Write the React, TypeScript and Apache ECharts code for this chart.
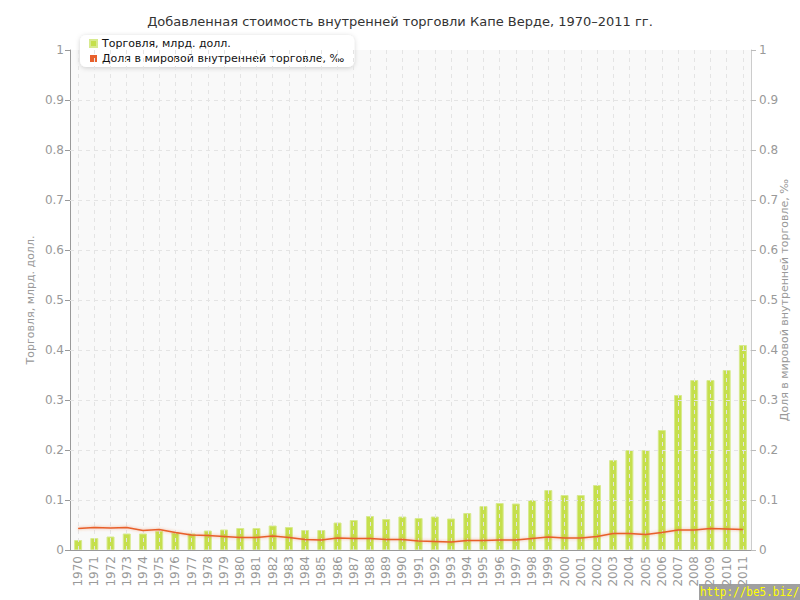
import React, { useEffect, useRef } from "react";
import * as echarts from "echarts";

const years = [
  "1970","1971","1972","1973","1974","1975","1976","1977","1978","1979",
  "1980","1981","1982","1983","1984","1985","1986","1987","1988","1989",
  "1990","1991","1992","1993","1994","1995","1996","1997","1998","1999",
  "2000","2001","2002","2003","2004","2005","2006","2007","2008","2009",
  "2010","2011",
];

const trade = [
  0.02, 0.024, 0.027, 0.033, 0.033, 0.038, 0.035, 0.033, 0.039, 0.041,
  0.044, 0.044, 0.049, 0.046, 0.04, 0.04, 0.055, 0.06, 0.068, 0.062,
  0.067, 0.064, 0.067, 0.063, 0.074, 0.088, 0.094, 0.093, 0.1, 0.12,
  0.11, 0.11, 0.13, 0.18, 0.2, 0.2, 0.24, 0.31, 0.34, 0.34,
  0.36, 0.41,
];

const share = [
  0.043, 0.045, 0.044, 0.045, 0.039, 0.041, 0.035, 0.03, 0.029, 0.027,
  0.025, 0.025, 0.028, 0.025, 0.021, 0.02, 0.024, 0.023, 0.023, 0.021,
  0.021, 0.018, 0.017, 0.016, 0.019, 0.019, 0.02, 0.02, 0.023, 0.026,
  0.024, 0.024, 0.027, 0.033, 0.033, 0.031, 0.035, 0.04, 0.04, 0.043,
  0.042, 0.041,
];

const yTicks = [0.1, 0.2, 0.3, 0.4, 0.5, 0.6, 0.7, 0.8, 0.9];

const titleText = "Добавленная стоимость внутренней торговли Капе Верде, 1970–2011 гг.";
const seriesNames = ["Торговля, млрд. долл.", "Доля в мировой внутренней торговле, ‰"];
const leftAxisName = "Торговля, млрд. долл.";
const rightAxisName = "Доля в мировой внутренней торговле, ‰";
const watermark = "http://be5.biz/";

export default function App() {
  const ref = useRef<HTMLDivElement>(null);
  useEffect(() => {
    if (!ref.current) return;
    const chart = echarts.init(ref.current, null, { renderer: "svg" });
    const font = "DejaVu Sans";
    const gridLine = { color: "#e4e4e4", type: [4, 4] as any, width: 1 };
    chart.setOption({
      animation: false,
      textStyle: { fontFamily: font },
      title: {
        text: titleText,
        left: "center",
        top: 10,
        textStyle: { fontSize: 13, fontWeight: "normal", color: "#333", fontFamily: font },
      },
      legend: {
        orient: "vertical",
        left: 80,
        top: 35,
        itemWidth: 7,
        itemHeight: 7,
        itemGap: 4,
        icon: "rect",
        padding: [3, 10, 3, 9],
        backgroundColor: "#fff",
        borderRadius: 6,
        shadowBlur: 5,
        shadowColor: "rgba(0,0,0,0.18)",
        shadowOffsetY: 1,
        textStyle: { fontSize: 11, color: "#111", fontFamily: font },
        data: seriesNames,
      },
      grid: {
        left: 70,
        right: 49,
        top: 50,
        bottom: 50,
        outerBoundsMode: "none",
        containLabel: false,
        show: true,
        backgroundColor: "#f9f9f9",
        borderWidth: 0,
      },
      xAxis: {
        type: "category",
        data: years,
        boundaryGap: true,
        axisLine: { lineStyle: { color: "#999" } },
        axisTick: { show: false },
        splitLine: { show: false },
        axisLabel: {
          rotate: 90,
          interval: 0,
          color: "#999",
          fontSize: 12,
          margin: 6,
          fontFamily: font,
        },
      },
      yAxis: [
        {
          type: "value",
          min: 0,
          max: 1,
          interval: 0.1,
          name: leftAxisName,
          nameLocation: "middle",
          nameGap: 34,
          nameMoveOverlap: false,
          nameTextStyle: { color: "#999", fontSize: 11, fontFamily: font },
          axisLine: { show: true, lineStyle: { color: "#999" } },
          axisTick: { show: true, length: 5, lineStyle: { color: "#999" } },
          axisLabel: { color: "#999", fontSize: 12, margin: 6, fontFamily: font },
          splitLine: { show: false },
        },
        {
          type: "value",
          min: 0,
          max: 1,
          interval: 0.1,
          position: "right",
          name: rightAxisName,
          nameLocation: "middle",
          nameGap: 28,
          nameRotate: 90,
          nameMoveOverlap: false,
          nameTextStyle: { color: "#999", fontSize: 11, fontFamily: font },
          axisLine: { show: true, lineStyle: { color: "#ccc" } },
          axisTick: { show: true, length: 5, lineStyle: { color: "#bbb" } },
          axisLabel: { color: "#999", fontSize: 12, margin: 8, fontFamily: font },
          splitLine: { show: false },
        },
      ],
      series: [
        {
          name: seriesNames[0],
          type: "bar",
          data: trade,
          barWidth: 8,
          yAxisIndex: 0,
          itemStyle: { color: "#c5df4c", borderColor: "#d7ea8e", borderWidth: 1 },
          markLine: {
            silent: true,
            symbol: "none",
            label: { show: false },
            lineStyle: gridLine,
            data: [
              ...years.map((y) => ({ xAxis: y })),
              ...yTicks.map((v) => ({ yAxis: v })),
            ],
          },
        },
        {
          name: seriesNames[1],
          type: "line",
          data: share,
          yAxisIndex: 1,
          symbol: "none",
          color: "#e8602c",
          lineStyle: {
            color: "#e8602c",
            width: 1.5,
            shadowBlur: 3,
            shadowColor: "rgba(232,96,44,0.5)",
          },
          z: 5,
        },
      ],
      graphic: [
        { type: "rect", x: 699, y: 584, shape: { x: 0, y: 0, width: 101, height: 16 }, style: { fill: "#a0a0a0" } },
        {
          type: "text",
          x: 700,
          y: 585,
          scaleY: 1.15,
          style: { text: watermark, fill: "#ffff00", font: "11px 'DejaVu Sans Mono'" },
        },
      ],
    });
    return () => chart.dispose();
  }, []);
  return (
    <div
      ref={ref}
      style={{ position: "absolute", left: 0, top: 0, width: 800, height: 600, background: "#fff" }}
    />
  );
}
